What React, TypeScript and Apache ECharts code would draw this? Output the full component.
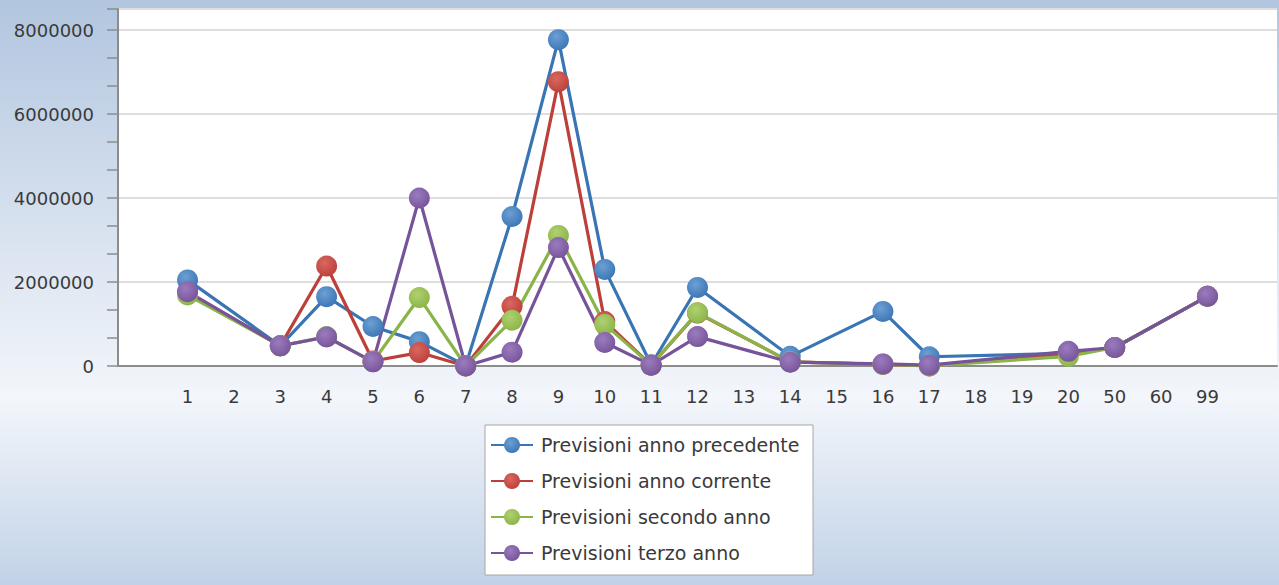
import React, { useEffect, useRef } from "react";
import * as echarts from "echarts";

// category labels (blank ones pad the axis at both ends)
const categories = ["", "1", "2", "3", "4", "5", "6", "7", "8", "9", "10", "11", "12", "13", "14", "15", "16", "17", "18", "19", "20", "50", "60", "99", ""];

const seriesNames = [
  "Previsioni anno precedente",
  "Previsioni anno corrente",
  "Previsioni secondo anno",
  "Previsioni terzo anno",
];

// values for categories 1..99 (null = no value, line connects across)
//                 1        2     3       4        5       6        7      8        9        10       11     12       13    14      15    16       17      18    19    20      50      60    99
const precedente = [2050000, null, 480000, 1650000, 940000, 580000, 10000, 3560000, 7770000, 2300000, 30000, 1870000, null, 230000, null, 1300000, 220000, null, null, 300000, 440000, null, 1660000];
const corrente = [1750000, null, 480000, 2380000, 120000, 320000, 0, 1420000, 6770000, 1060000, 20000, 1260000, null, 100000, null, 40000, 0, null, null, 300000, 440000, null, 1660000];
const secondo = [1690000, null, 480000, 700000, 100000, 1630000, 0, 1090000, 3110000, 990000, 20000, 1270000, null, 100000, null, 40000, 0, null, null, 230000, 440000, null, 1660000];
const terzo = [1770000, null, 480000, 690000, 100000, 4000000, 0, 330000, 2820000, 560000, 20000, 700000, null, 90000, null, 50000, 20000, null, null, 350000, 440000, null, 1660000];

const seriesData = [precedente, corrente, secondo, terzo];
const baseColors = ["#3a75b3", "#bc3f3a", "#8ab447", "#77539a"];
const lightColors = ["#6da0d4", "#d9685f", "#b0d070", "#9a7cbd"];

const yTicks = [0, 2000000, 4000000, 6000000, 8000000];

export default function App() {
  const ref = useRef<HTMLDivElement>(null);
  useEffect(() => {
    document.body.style.margin = "0";
    const chart = echarts.init(ref.current!, null, { renderer: "svg" });
    const series = seriesData.map((vals, i) => ({
      name: seriesNames[i],
      type: "line",
      data: [null, ...vals, null],
      connectNulls: true,
      symbol: "circle",
      symbolSize: 21,
      lineStyle: { color: baseColors[i], width: 3.2 },
      itemStyle: {
        color: {
          type: "radial",
          x: 0.4,
          y: 0.35,
          r: 0.7,
          colorStops: [
            { offset: 0, color: lightColors[i] },
            { offset: 1, color: baseColors[i] },
          ],
        },
      },
      emphasis: { disabled: true },
    }));
    chart.setOption({
      animation: false,
      backgroundColor: {
        type: "linear",
        x: 0,
        y: 0,
        x2: 0,
        y2: 1,
        colorStops: [
          { offset: 0, color: "#b2c6df" },
          { offset: 0.68, color: "#f3f6fb" },
          { offset: 1, color: "#c1d2e7" },
        ],
      },
      textStyle: { fontFamily: "DejaVu Sans" },
      grid: {
        left: 118,
        right: 2,
        top: 9,
        bottom: 219,
        show: true,
        backgroundColor: "#ffffff",
        borderWidth: 0,
      },
      legend: {
        orient: "vertical",
        left: 485,
        top: 425,
        backgroundColor: "#ffffff",
        borderColor: "#a6a6a6",
        borderWidth: 1,
        borderRadius: 0,
        padding: [10, 9, 12, 5],
        itemGap: 16,
        itemWidth: 42,
        itemHeight: 20,
        textStyle: { fontSize: 19, color: "#3a3a3a", lineHeight: 20, fontFamily: "DejaVu Sans", padding: [0, 0, 0, 3], width: 263 },
        data: seriesNames,
      },
      xAxis: {
        type: "category",
        data: categories,
        boundaryGap: true,
        axisLine: { lineStyle: { color: "#8c8c8c", width: 2 } },
        axisTick: {
          alignWithLabel: true,
          length: 11,
          lineStyle: { color: "#8c8c8c", width: 1.5 },
          interval: (i: number, v: string) => v !== "",
        },
        axisLabel: {
          fontSize: 18,
          color: "#3a3a3a",
          margin: 21,
          interval: 0,
          fontFamily: "DejaVu Sans",
        },
        splitLine: { show: false },
      },
      yAxis: {
        type: "value",
        min: 0,
        max: 8500000,
        interval: 2000000,
        axisLine: { show: true, lineStyle: { color: "#8c8c8c", width: 2 } },
        axisTick: { show: true, length: 11, lineStyle: { color: "#8c8c8c", width: 1.5 } },
        minorTick: { show: true, splitNumber: 3, length: 11, lineStyle: { color: "#8c8c8c", width: 1.5 } },
        axisLabel: {
          fontSize: 18,
          color: "#3a3a3a",
          margin: 24,
          fontFamily: "DejaVu Sans",
          formatter: (v: number) => (yTicks.includes(v) ? String(v) : ""),
        },
        splitLine: { show: true, lineStyle: { color: "#dedede", width: 2 } },
      },
      series,
    });
    return () => chart.dispose();
  }, []);
  return <div ref={ref} style={{ position: "absolute", left: 0, top: 0, width: 1279, height: 585 }} />;
}
